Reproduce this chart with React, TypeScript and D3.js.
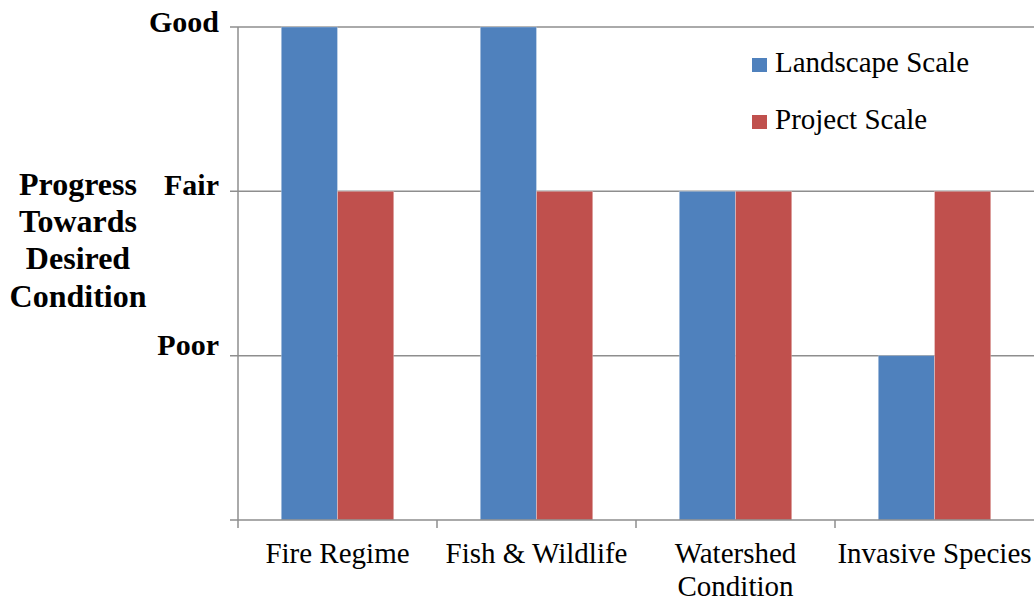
import React from "react";
import * as d3 from "d3";

const categories = ["Fire Regime", "Fish & Wildlife", "Watershed Condition", "Invasive Species"];
const categoryLines = [["Fire Regime"], ["Fish & Wildlife"], ["Watershed", "Condition"], ["Invasive Species"]];
const seriesNames = ["Landscape Scale", "Project Scale"];
const landscapeValues = [3, 3, 2, 1];
const projectValues = [2, 2, 2, 2];
const yTickValues = [1, 2, 3];
const yTickLabels = ["Poor", "Fair", "Good"];
const yTitleLines = ["Progress", "Towards", "Desired", "Condition"];
const colors = ["#4F81BD", "#C0504D"];

const FONT = "Liberation Serif, Times New Roman, Times, serif";

export default function App() {
  const W = 1034, H = 601;
  const left = 238, right = 1034, top = 27, bottom = 520;
  const x0 = d3.scaleBand<string>().domain(categories).range([left, right]).paddingInner(0).paddingOuter(0);
  const bw = x0.bandwidth();
  const gap = bw * 0.2175;
  const x1 = d3.scaleBand<string>().domain(seriesNames).range([gap, bw - gap]).padding(0);
  const y = d3.scaleLinear().domain([0, 3]).range([bottom, top]);
  const seriesValues = [landscapeValues, projectValues];
  const axisColor = "#8E8E8E";
  const tickLabelDy = [-1, 4, 5];

  return (
    <svg width={W} height={H} style={{ position: "absolute", left: 0, top: 0 }}>
      <rect width={W} height={H} fill="#fff" />
      {yTickValues.map((v) => (
        <line key={v} x1={left - 8} x2={right} y1={y(v)} y2={y(v)} stroke={axisColor} strokeWidth={1.5} />
      ))}
      {categories.map((c, i) =>
        seriesNames.map((s, j) => {
          const v = seriesValues[j][i];
          return (
            <rect
              key={c + s}
              x={(x0(c) as number) + (x1(s) as number)}
              y={y(v)}
              width={x1.bandwidth()}
              height={y(0) - y(v)}
              fill={colors[j]}
              stroke="#ffffff"
              strokeOpacity={0.35}
              strokeWidth={0.8}
            />
          );
        })
      )}
      <line x1={left} x2={left} y1={top} y2={bottom + 8} stroke={axisColor} strokeWidth={1.5} />
      <line x1={left - 8} x2={right} y1={y(0)} y2={y(0)} stroke={axisColor} strokeWidth={1.5} />
      {categories.slice(1).map((c) => (
        <line key={c} x1={x0(c) as number} x2={x0(c) as number} y1={bottom} y2={bottom + 8} stroke={axisColor} strokeWidth={1.5} />
      ))}
      {yTickValues.map((v, i) => (
        <text key={v} x={219} y={y(v) + tickLabelDy[i]} textAnchor="end" fontSize={30} fontWeight="bold" fill="#000" fontFamily={FONT}>
          {yTickLabels[i]}
        </text>
      ))}
      {yTitleLines.map((t, i) => (
        <text key={t} x={78} y={195 + i * 37.2} textAnchor="middle" fontSize={32} fontWeight="bold" fill="#000" fontFamily={FONT}>
          {t}
        </text>
      ))}
      {categories.map((c, i) =>
        categoryLines[i].map((line, k) => (
          <text key={c + k} x={(x0(c) as number) + bw / 2} y={563 + k * 33} textAnchor="middle" fontSize={29} fill="#000" fontFamily={FONT}>
            {line}
          </text>
        ))
      )}
      {seriesNames.map((s, j) => (
        <g key={s} transform={`translate(752, ${58 + j * 57})`}>
          <rect width={15} height={14} fill={colors[j]} />
          <text x={23} y={14} fontSize={29} fill="#000" fontFamily={FONT}>{s}</text>
        </g>
      ))}
    </svg>
  );
}
